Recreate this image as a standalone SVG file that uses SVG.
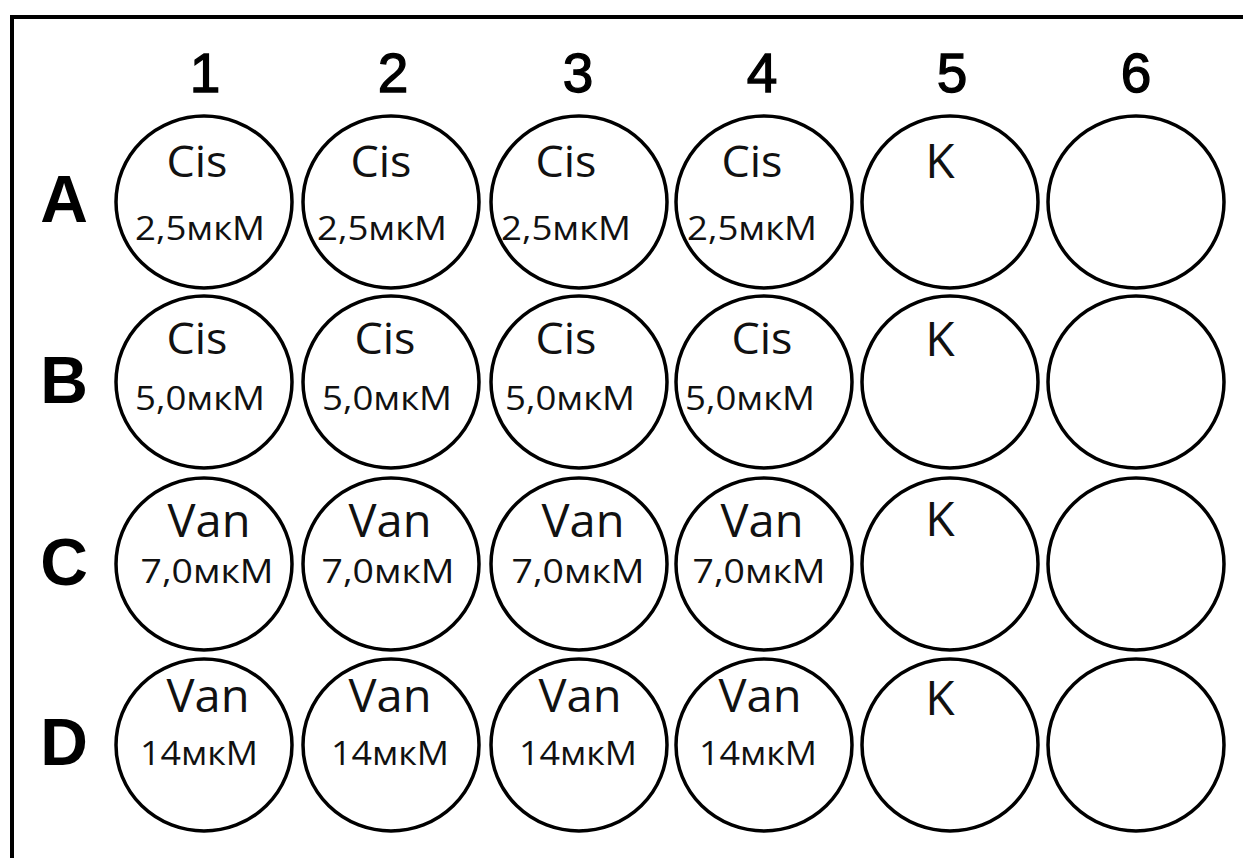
<svg xmlns="http://www.w3.org/2000/svg" width="1243" height="858" viewBox="0 0 1243 858">
<style>
.well{fill:#fff;stroke:#000;stroke-width:3.5}
.hdr{font-family:"Liberation Sans",Arial,sans-serif;font-size:55px;fill:#000;stroke:#000;stroke-width:1.3;text-anchor:middle}
.row{font-family:"Liberation Sans",Arial,sans-serif;font-size:66px;font-weight:bold;fill:#000;text-anchor:middle}
.drug{font-family:"Open Sans","Noto Sans",sans-serif;font-size:43px;fill:#111;text-anchor:middle}
.van{font-size:45px}
.k{font-family:"Open Sans","Noto Sans",sans-serif;font-size:48px;fill:#111;text-anchor:middle}
.conc{font-family:"Open Sans","Noto Sans",sans-serif;font-size:33px;fill:#111;text-anchor:middle}
</style>
<rect width="1243" height="858" fill="#fff"/>
<path d="M1243 17 H12 V858" fill="none" stroke="#000" stroke-width="4"/>
<g id="col-headers">
<text class="hdr" x="205" y="92">1</text>
<text class="hdr" x="393" y="92">2</text>
<text class="hdr" x="578" y="92">3</text>
<text class="hdr" x="762" y="92">4</text>
<text class="hdr" x="952" y="92">5</text>
<text class="hdr" x="1136" y="92">6</text>
</g>
<g id="row-headers">
<text class="row" x="64" y="222">A</text>
<text class="row" x="64" y="403">B</text>
<text class="row" x="64" y="585">C</text>
<text class="row" x="64" y="765">D</text>
</g>
<g id="A1"><ellipse class="well" cx="204" cy="202" rx="88" ry="86"/><text class="drug" x="197" y="177" textLength="61" lengthAdjust="spacingAndGlyphs">Cis</text><text class="conc" x="200" y="240" textLength="130" lengthAdjust="spacingAndGlyphs">2,5мкМ</text></g>
<g id="A2"><ellipse class="well" cx="391" cy="202" rx="88" ry="86"/><text class="drug" x="381" y="177" textLength="61" lengthAdjust="spacingAndGlyphs">Cis</text><text class="conc" x="382" y="240" textLength="130" lengthAdjust="spacingAndGlyphs">2,5мкМ</text></g>
<g id="A3"><ellipse class="well" cx="579" cy="202" rx="88" ry="86"/><text class="drug" x="566" y="177" textLength="61" lengthAdjust="spacingAndGlyphs">Cis</text><text class="conc" x="566" y="240" textLength="130" lengthAdjust="spacingAndGlyphs">2,5мкМ</text></g>
<g id="A4"><ellipse class="well" cx="764" cy="202" rx="88" ry="86"/><text class="drug" x="752" y="177" textLength="61" lengthAdjust="spacingAndGlyphs">Cis</text><text class="conc" x="752" y="240" textLength="130" lengthAdjust="spacingAndGlyphs">2,5мкМ</text></g>
<g id="A5"><ellipse class="well" cx="950" cy="202" rx="88" ry="86"/><text class="k" x="940" y="178">K</text></g>
<g id="A6"><ellipse class="well" cx="1136" cy="202" rx="88" ry="86"/></g>
<g id="B1"><ellipse class="well" cx="204" cy="382" rx="88" ry="86"/><text class="drug" x="197" y="354" textLength="61" lengthAdjust="spacingAndGlyphs">Cis</text><text class="conc" x="200" y="410" textLength="130" lengthAdjust="spacingAndGlyphs">5,0мкМ</text></g>
<g id="B2"><ellipse class="well" cx="391" cy="382" rx="88" ry="86"/><text class="drug" x="385" y="354" textLength="61" lengthAdjust="spacingAndGlyphs">Cis</text><text class="conc" x="387" y="410" textLength="130" lengthAdjust="spacingAndGlyphs">5,0мкМ</text></g>
<g id="B3"><ellipse class="well" cx="579" cy="382" rx="88" ry="86"/><text class="drug" x="566" y="354" textLength="61" lengthAdjust="spacingAndGlyphs">Cis</text><text class="conc" x="570" y="410" textLength="130" lengthAdjust="spacingAndGlyphs">5,0мкМ</text></g>
<g id="B4"><ellipse class="well" cx="764" cy="382" rx="88" ry="86"/><text class="drug" x="762" y="354" textLength="61" lengthAdjust="spacingAndGlyphs">Cis</text><text class="conc" x="750" y="410" textLength="130" lengthAdjust="spacingAndGlyphs">5,0мкМ</text></g>
<g id="B5"><ellipse class="well" cx="950" cy="382" rx="88" ry="86"/><text class="k" x="940" y="356">K</text></g>
<g id="B6"><ellipse class="well" cx="1136" cy="382" rx="88" ry="86"/></g>
<g id="C1"><ellipse class="well" cx="204" cy="564" rx="88" ry="86"/><text class="drug van" x="209" y="537" textLength="83" lengthAdjust="spacingAndGlyphs">Van</text><text class="conc" x="207" y="583" textLength="133" lengthAdjust="spacingAndGlyphs">7,0мкМ</text></g>
<g id="C2"><ellipse class="well" cx="391" cy="564" rx="88" ry="86"/><text class="drug van" x="390" y="537" textLength="83" lengthAdjust="spacingAndGlyphs">Van</text><text class="conc" x="388" y="583" textLength="133" lengthAdjust="spacingAndGlyphs">7,0мкМ</text></g>
<g id="C3"><ellipse class="well" cx="579" cy="564" rx="88" ry="86"/><text class="drug van" x="583" y="537" textLength="83" lengthAdjust="spacingAndGlyphs">Van</text><text class="conc" x="578" y="583" textLength="133" lengthAdjust="spacingAndGlyphs">7,0мкМ</text></g>
<g id="C4"><ellipse class="well" cx="764" cy="564" rx="88" ry="86"/><text class="drug van" x="762" y="537" textLength="83" lengthAdjust="spacingAndGlyphs">Van</text><text class="conc" x="759" y="583" textLength="133" lengthAdjust="spacingAndGlyphs">7,0мкМ</text></g>
<g id="C5"><ellipse class="well" cx="950" cy="564" rx="88" ry="86"/><text class="k" x="940" y="536">K</text></g>
<g id="C6"><ellipse class="well" cx="1136" cy="564" rx="88" ry="86"/></g>
<g id="D1"><ellipse class="well" cx="204" cy="745" rx="88" ry="86"/><text class="drug van" x="208" y="712" textLength="83" lengthAdjust="spacingAndGlyphs">Van</text><text class="conc" x="199" y="765" textLength="118" lengthAdjust="spacingAndGlyphs">14мкМ</text></g>
<g id="D2"><ellipse class="well" cx="391" cy="745" rx="88" ry="86"/><text class="drug van" x="390" y="712" textLength="83" lengthAdjust="spacingAndGlyphs">Van</text><text class="conc" x="390" y="765" textLength="118" lengthAdjust="spacingAndGlyphs">14мкМ</text></g>
<g id="D3"><ellipse class="well" cx="579" cy="745" rx="88" ry="86"/><text class="drug van" x="580" y="712" textLength="83" lengthAdjust="spacingAndGlyphs">Van</text><text class="conc" x="578" y="765" textLength="118" lengthAdjust="spacingAndGlyphs">14мкМ</text></g>
<g id="D4"><ellipse class="well" cx="764" cy="745" rx="88" ry="86"/><text class="drug van" x="760" y="712" textLength="83" lengthAdjust="spacingAndGlyphs">Van</text><text class="conc" x="758" y="765" textLength="118" lengthAdjust="spacingAndGlyphs">14мкМ</text></g>
<g id="D5"><ellipse class="well" cx="950" cy="745" rx="88" ry="86"/><text class="k" x="940" y="715">K</text></g>
<g id="D6"><ellipse class="well" cx="1136" cy="745" rx="88" ry="86"/></g>
<g id="connectors"/>
</svg>
